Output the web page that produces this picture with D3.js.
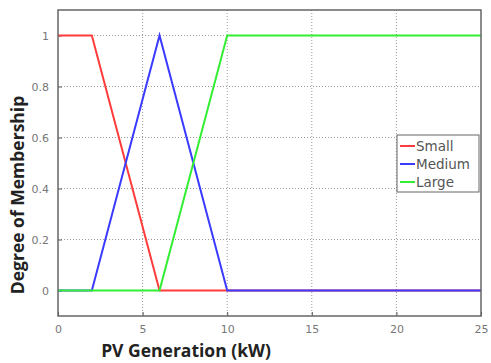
<!DOCTYPE html>
<html>
<head>
<meta charset="utf-8">
<script src="https://cdn.jsdelivr.net/npm/d3@7"></script>
<style>
  body { margin: 0; background: #fff; }
  svg { display: block; }
</style>
</head>
<body>
<div id="chart"></div>
<script>
// ---------- data ----------
var seriesNames = ['Small', 'Medium', 'Large'];
var smallPts  = [[0, 1], [2, 1], [6, 0], [25, 0]];
var mediumPts = [[0, 0], [2, 0], [6, 1], [10, 0], [25, 0]];
var largePts  = [[0, 0], [6, 0], [10, 1], [25, 1]];
var xTicks = [0, 5, 10, 15, 20, 25];
var yTicks = [0, 0.2, 0.4, 0.6, 0.8, 1];
var colors = ['#ff3b3b', '#3b3bff', '#33ee33'];

var width = 491, height = 363;
var plotL = 58, plotR = 481, plotT = 10, plotB = 316;

var svg = d3.select('#chart').append('svg')
  .attr('width', width)
  .attr('height', height);

var x = d3.scaleLinear().domain([0, 25]).range([plotL, plotR]);
var y = d3.scaleLinear().domain([-0.1, 1.1]).range([plotB, plotT]);

// grid
svg.append('g').selectAll('line').data(xTicks.slice(1, -1)).enter().append('line')
  .attr('x1', function (d) { return x(d); }).attr('x2', function (d) { return x(d); })
  .attr('y1', plotT).attr('y2', plotB)
  .attr('stroke', '#999').attr('stroke-dasharray', '1,2');
svg.append('g').selectAll('line').data(yTicks).enter().append('line')
  .attr('y1', function (d) { return y(d); }).attr('y2', function (d) { return y(d); })
  .attr('x1', plotL).attr('x2', plotR)
  .attr('stroke', '#999').attr('stroke-dasharray', '1,2');

// axes
var xAxis = svg.append('g').attr('transform', 'translate(0,' + plotB + ')')
  .call(d3.axisBottom(x).tickValues(xTicks).tickSize(-4).tickPadding(9).tickFormat(d3.format('d')));
var yAxis = svg.append('g').attr('transform', 'translate(' + plotL + ',0)')
  .call(d3.axisLeft(y).tickValues(yTicks).tickSize(-4).tickPadding(9).tickFormat(function (d) { return d; }));
[xAxis, yAxis].forEach(function (a) {
  a.select('.domain').remove();
  a.selectAll('line').attr('stroke', '#555');
  a.selectAll('text').attr('fill', '#777').style('font-family', 'DejaVu Sans, sans-serif').style('font-size', '11px');
});

// lines
var line = d3.line().x(function (d) { return x(d[0]); }).y(function (d) { return y(d[1]); });
[smallPts, mediumPts, largePts].forEach(function (pts, i) {
  svg.append('path').datum(pts)
    .attr('d', line)
    .attr('fill', 'none')
    .attr('stroke', colors[i])
    .attr('stroke-width', 2);
});

// frame
svg.append('rect')
  .attr('x', plotL).attr('y', plotT)
  .attr('width', plotR - plotL).attr('height', plotB - plotT)
  .attr('fill', 'none').attr('stroke', '#666').attr('stroke-width', 1.5);

// legend
var lg = svg.append('g').attr('transform', 'translate(397,135)');
lg.append('rect').attr('width', 82).attr('height', 57)
  .attr('fill', '#fff').attr('stroke', '#666');
seriesNames.forEach(function (name, i) {
  var yy = 11 + i * 18;
  lg.append('line').attr('x1', 3).attr('x2', 18).attr('y1', yy).attr('y2', yy)
    .attr('stroke', colors[i]).attr('stroke-width', 2);
  lg.append('text').attr('x', 19).attr('y', yy + 5).text(name)
    .attr('fill', '#555').style('font-family', 'DejaVu Sans, sans-serif').style('font-size', '13.5px');
});

// axis titles
svg.append('text')
  .attr('x', 186).attr('y', 357)
  .attr('text-anchor', 'middle')
  .style('font-family', 'Open Sans, sans-serif').style('font-weight', 'bold').style('font-size', '17.5px')
  .attr('fill', '#222')
  .text('PV Generation (kW)');
svg.append('text')
  .attr('transform', 'translate(24,195) rotate(-90)')
  .attr('text-anchor', 'middle')
  .style('font-family', 'Open Sans, sans-serif').style('font-weight', 'bold').style('font-size', '17.5px')
  .attr('fill', '#222')
  .text('Degree of Membership');
</script>
</body>
</html>
